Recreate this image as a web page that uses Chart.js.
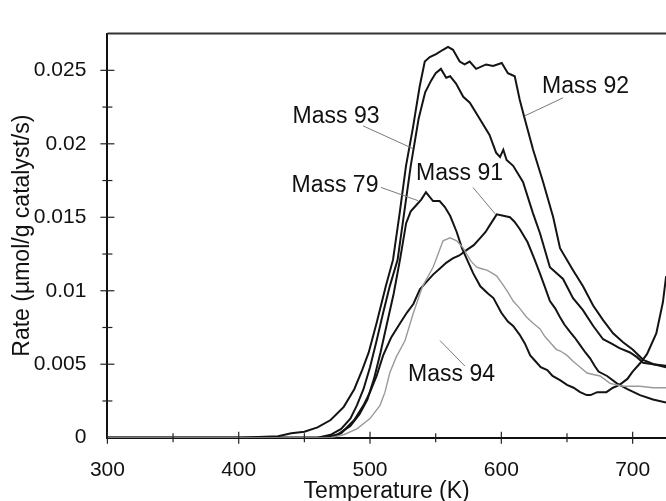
<!DOCTYPE html>
<html>
<head>
<meta charset="utf-8">
<script src="https://cdn.jsdelivr.net/npm/chart.js@4.4.1/dist/chart.umd.min.js"></script>
<style>
  html, body { margin: 0; padding: 0; background: #fff; overflow: hidden; }
  #wrap { position: relative; width: 666px; height: 501px; overflow: hidden; }
  #tpd-chart { display: block; }
</style>
</head>
<body>
<div id="wrap"><canvas id="tpd-chart"></canvas></div>
<script>
// Temperature (K) and rate (umol/g catalyst/s), one pair per mass
const temp92 = [300, 400, 430, 440, 450, 460, 470, 480, 488, 494, 499, 505, 512, 517.5, 522.6, 527.4, 532.7, 537.8, 541.7, 545.5, 550.3, 555.6, 559.4, 563.2, 568.3, 572, 575.9, 580.8, 588.4, 593.7, 600.3, 605, 610.2, 614, 617.8, 624.2, 631.8, 639.5, 644.7, 654.6, 662.2, 669.9, 677.5, 685.1, 692.7, 700, 708, 716, 725.5];
const rate92 = [0, 0, 0.0001, 0.0003, 0.0004, 0.0007, 0.0012, 0.0021, 0.0033, 0.0046, 0.0058, 0.0078, 0.0103, 0.0121, 0.0153, 0.0185, 0.0211, 0.0239, 0.0256, 0.0259, 0.0261, 0.0264, 0.0266, 0.0264, 0.0256, 0.0254, 0.0256, 0.0251, 0.0254, 0.0253, 0.0255, 0.0248, 0.0246, 0.0230, 0.0217, 0.0196, 0.0174, 0.0150, 0.0129, 0.0114, 0.0103, 0.0090, 0.0080, 0.0071, 0.0065, 0.0060, 0.0053, 0.0050, 0.0048];

const temp93 = [300, 460, 470, 478, 485, 490, 495, 500, 505, 510, 515, 521, 526, 531, 537, 542, 546.5, 550, 554, 558, 561, 565.5, 571, 576, 583.5, 591, 596, 599, 601.5, 604, 609, 616.5, 624, 629.5, 637, 647, 654.6, 662, 670, 677.5, 684, 690, 698, 703, 708, 715.5, 725.5];
const rate93 = [0, 0, 0.0002, 0.0006, 0.0013, 0.0022, 0.0033, 0.0048, 0.0066, 0.0085, 0.0103, 0.0121, 0.0153, 0.0185, 0.0217, 0.0235, 0.0243, 0.0248, 0.0251, 0.0245, 0.0246, 0.0241, 0.0232, 0.0228, 0.0217, 0.0206, 0.0194, 0.0191, 0.0196, 0.0189, 0.0185, 0.0174, 0.0153, 0.0139, 0.0116, 0.0108, 0.0095, 0.0087, 0.0076, 0.0067, 0.0064, 0.0061, 0.0058, 0.0055, 0.0051, 0.0050, 0.0049];

const temp79 = [300, 465, 475, 485, 492, 498, 503, 508, 513, 518, 523, 527.5, 531, 535, 539, 542.6, 548, 553, 557, 561, 566, 570, 574, 578.5, 584, 590, 594, 600, 605, 609, 614, 618, 622, 626, 630, 635, 639, 645, 650, 655, 660, 665, 668, 673, 680, 685, 690, 696, 700, 706, 711, 718, 723, 725.5, 728];
const rate79 = [0, 0, 0.0002, 0.0008, 0.0016, 0.0026, 0.0040, 0.0058, 0.0078, 0.0098, 0.0122, 0.0146, 0.0154, 0.0158, 0.0162, 0.0167, 0.0161, 0.0161, 0.0157, 0.0151, 0.0140, 0.0129, 0.0121, 0.0112, 0.0103, 0.0098, 0.0095, 0.0085, 0.0079, 0.0076, 0.0070, 0.0064, 0.0056, 0.0052, 0.0048, 0.0046, 0.0042, 0.0039, 0.0036, 0.0034, 0.0031, 0.0029, 0.0029, 0.0031, 0.0031, 0.0034, 0.0036, 0.0040, 0.0045, 0.0051, 0.0057, 0.0071, 0.0092, 0.0110, 0.0160];

const temp91 = [300, 468, 478, 488, 495, 500, 505, 510, 516, 523, 528, 533, 538, 543, 548, 553, 558, 563, 568, 574, 579, 584, 588, 591.5, 596.5, 601.5, 606.6, 610, 614, 620, 625, 629.3, 633, 637, 641, 644.7, 648, 652.3, 656, 660, 664, 667.6, 671, 674, 680.5, 688, 696, 705.6, 715.5, 725.5];
const rate91 = [0, 0, 0.0003, 0.0012, 0.0022, 0.0031, 0.0042, 0.0056, 0.0068, 0.0078, 0.0085, 0.0091, 0.0101, 0.0106, 0.0111, 0.0115, 0.0119, 0.0122, 0.0124, 0.0128, 0.0131, 0.0136, 0.0140, 0.0145, 0.0152, 0.0151, 0.0150, 0.0147, 0.0142, 0.0133, 0.0122, 0.0112, 0.0103, 0.0093, 0.0088, 0.0082, 0.0077, 0.0072, 0.0068, 0.0063, 0.0058, 0.0054, 0.0049, 0.0045, 0.0042, 0.0037, 0.0033, 0.0029, 0.0026, 0.0024];

const temp94 = [300, 470, 480, 490, 500, 507.6, 511.4, 515, 520, 526.6, 532.7, 540, 548, 551, 555.6, 561, 566, 571, 573.6, 577, 581.3, 585, 589, 593, 596.5, 601.3, 605, 609, 614, 619.3, 624, 629.5, 633, 637, 642, 645, 650, 654.6, 660, 665.3, 670, 675.2, 682.8, 692.7, 705.6, 715.5, 725.5];
const rate94 = [0, 0, 0.0002, 0.0006, 0.0013, 0.0022, 0.0031, 0.0044, 0.0055, 0.0066, 0.0084, 0.0103, 0.0116, 0.0123, 0.0134, 0.0136, 0.0134, 0.0129, 0.0125, 0.0120, 0.0116, 0.0115, 0.0114, 0.0112, 0.0110, 0.0104, 0.0099, 0.0093, 0.0088, 0.0082, 0.0078, 0.0074, 0.0069, 0.0065, 0.0060, 0.0059, 0.0056, 0.0052, 0.0048, 0.0044, 0.0043, 0.0042, 0.0037, 0.0035, 0.0035, 0.0034, 0.0034];

// labelled ticks
const xLabelTicks = [300, 400, 500, 600, 700];
const yLabelTicks = [0, 0.005, 0.01, 0.015, 0.02, 0.025];

// curve labels: text centre and leader line, in data units
const curveLabels = [
    { text: 'Mass 92', x: 664.1, y: 0.02392, from: [647, 0.02313], to: [617.8, 0.0219] },
    { text: 'Mass 93', x: 474.1, y: 0.02185, from: [494.7, 0.02122], to: [532.8, 0.01967] },
    { text: 'Mass 79', x: 473.3, y: 0.01713, from: [508.4, 0.01703], to: [536.6, 0.01613] },
    { text: 'Mass 91', x: 568.2, y: 0.01797, from: [578.4, 0.01703], to: [595.9, 0.01517] },
    { text: 'Mass 94', x: 562.1, y: 0.00429, from: [572.3, 0.00487], to: [553.3, 0.00661] }
];

const FONT = '"Liberation Sans", Arial, Helvetica, sans-serif';

function toPoints(temps, rates) {
    return temps.map((t, i) => ({ x: t, y: rates[i] }));
}

function series(label, temps, rates, color, width) {
    return {
        label: label,
        data: toPoints(temps, rates),
        borderColor: color,
        borderWidth: width,
        pointRadius: 0,
        tension: 0,
        fill: false
    };
}

function isLabelled(list, v) {
    return list.some(m => Math.abs(m - v) < 1e-7);
}

// ticks that cross the axis lines, the top frame line and the curve labels
const framePlugin = {
    id: 'frame',
    afterDatasetsDraw(chart) {
        const { ctx, chartArea, scales } = chart;
        const x = scales.x, y = scales.y;
        ctx.save();

        ctx.strokeStyle = '#333';
        ctx.lineWidth = 2;
        ctx.beginPath();
        ctx.moveTo(chartArea.left, chartArea.top);
        ctx.lineTo(chartArea.right, chartArea.top);
        ctx.stroke();

        ctx.strokeStyle = '#222';
        ctx.lineWidth = 1.2;
        x.ticks.forEach(t => {
            const px = x.getPixelForValue(t.value);
            const h = isLabelled(xLabelTicks, t.value) ? 6 : 4.5;
            ctx.beginPath();
            ctx.moveTo(px, chartArea.bottom - h);
            ctx.lineTo(px, chartArea.bottom + h);
            ctx.stroke();
        });
        y.ticks.forEach(t => {
            if (t.value <= 0 || t.value >= y.max) return;
            const py = y.getPixelForValue(t.value);
            const h = isLabelled(yLabelTicks, t.value) ? 7 : 5;
            ctx.beginPath();
            ctx.moveTo(chartArea.left - h, py);
            ctx.lineTo(chartArea.left + h, py);
            ctx.stroke();
        });

        ctx.strokeStyle = '#7a7a7a';
        ctx.lineWidth = 1;
        ctx.fillStyle = '#111';
        ctx.font = '23px ' + FONT;
        ctx.textAlign = 'center';
        ctx.textBaseline = 'middle';
        curveLabels.forEach(l => {
            ctx.beginPath();
            ctx.moveTo(x.getPixelForValue(l.from[0]), y.getPixelForValue(l.from[1]));
            ctx.lineTo(x.getPixelForValue(l.to[0]), y.getPixelForValue(l.to[1]));
            ctx.stroke();
            ctx.fillText(l.text, x.getPixelForValue(l.x), y.getPixelForValue(l.y));
        });
        ctx.restore();
    }
};

const ctx = document.getElementById('tpd-chart').getContext('2d');
new Chart(ctx, {
    type: 'line',
    data: {
        datasets: [
            series('Mass 94', temp94, rate94, '#9a9a9a', 1.4),
            series('Mass 91', temp91, rate91, '#141414', 2),
            series('Mass 79', temp79, rate79, '#141414', 2),
            series('Mass 93', temp93, rate93, '#141414', 2),
            series('Mass 92', temp92, rate92, '#141414', 2)
        ]
    },
    options: {
        responsive: true,
        maintainAspectRatio: false,
        animation: false,
        layout: { padding: { top: 10, right: 0, left: 0, bottom: 0 } },
        plugins: {
            legend: { display: false },
            tooltip: { enabled: false }
        },
        scales: {
            x: {
                type: 'linear',
                min: 300,
                max: 725.4,
                afterFit: (scale) => { scale.height = 63.3; scale.paddingRight = 0; },
                grid: { display: false, drawTicks: false },
                border: { display: true, color: '#111', width: 2 },
                ticks: {
                    stepSize: 50,
                    includeBounds: false,
                    padding: 20,
                    color: '#111',
                    font: { family: FONT, size: 21 },
                    maxRotation: 0,
                    autoSkip: false,
                    callback: (v) => isLabelled(xLabelTicks, v) ? String(v) : ''
                },
                title: {
                    display: true,
                    text: 'Temperature (K)',
                    color: '#111',
                    font: { family: FONT, size: 23, lineHeight: 1 },
                    padding: { top: 0, bottom: -2 }
                }
            },
            y: {
                min: 0,
                max: 0.0275,
                afterFit: (scale) => { scale.width = 107.4; },
                grid: { display: false, drawTicks: false },
                border: { display: true, color: '#111', width: 2 },
                ticks: {
                    stepSize: 0.0025,
                    padding: 21,
                    color: '#111',
                    font: { family: FONT, size: 21 },
                    autoSkip: false,
                    callback: (v) => isLabelled(yLabelTicks, v) ? String(Number(v.toFixed(4))) : ''
                },
                title: {
                    display: true,
                    text: 'Rate (µmol/g catalyst/s)',
                    color: '#111',
                    font: { family: FONT, size: 23, lineHeight: 1 },
                    padding: { top: 11, bottom: 0 }
                }
            }
        }
    },
    plugins: [framePlugin]
});
</script>
</body>
</html>
